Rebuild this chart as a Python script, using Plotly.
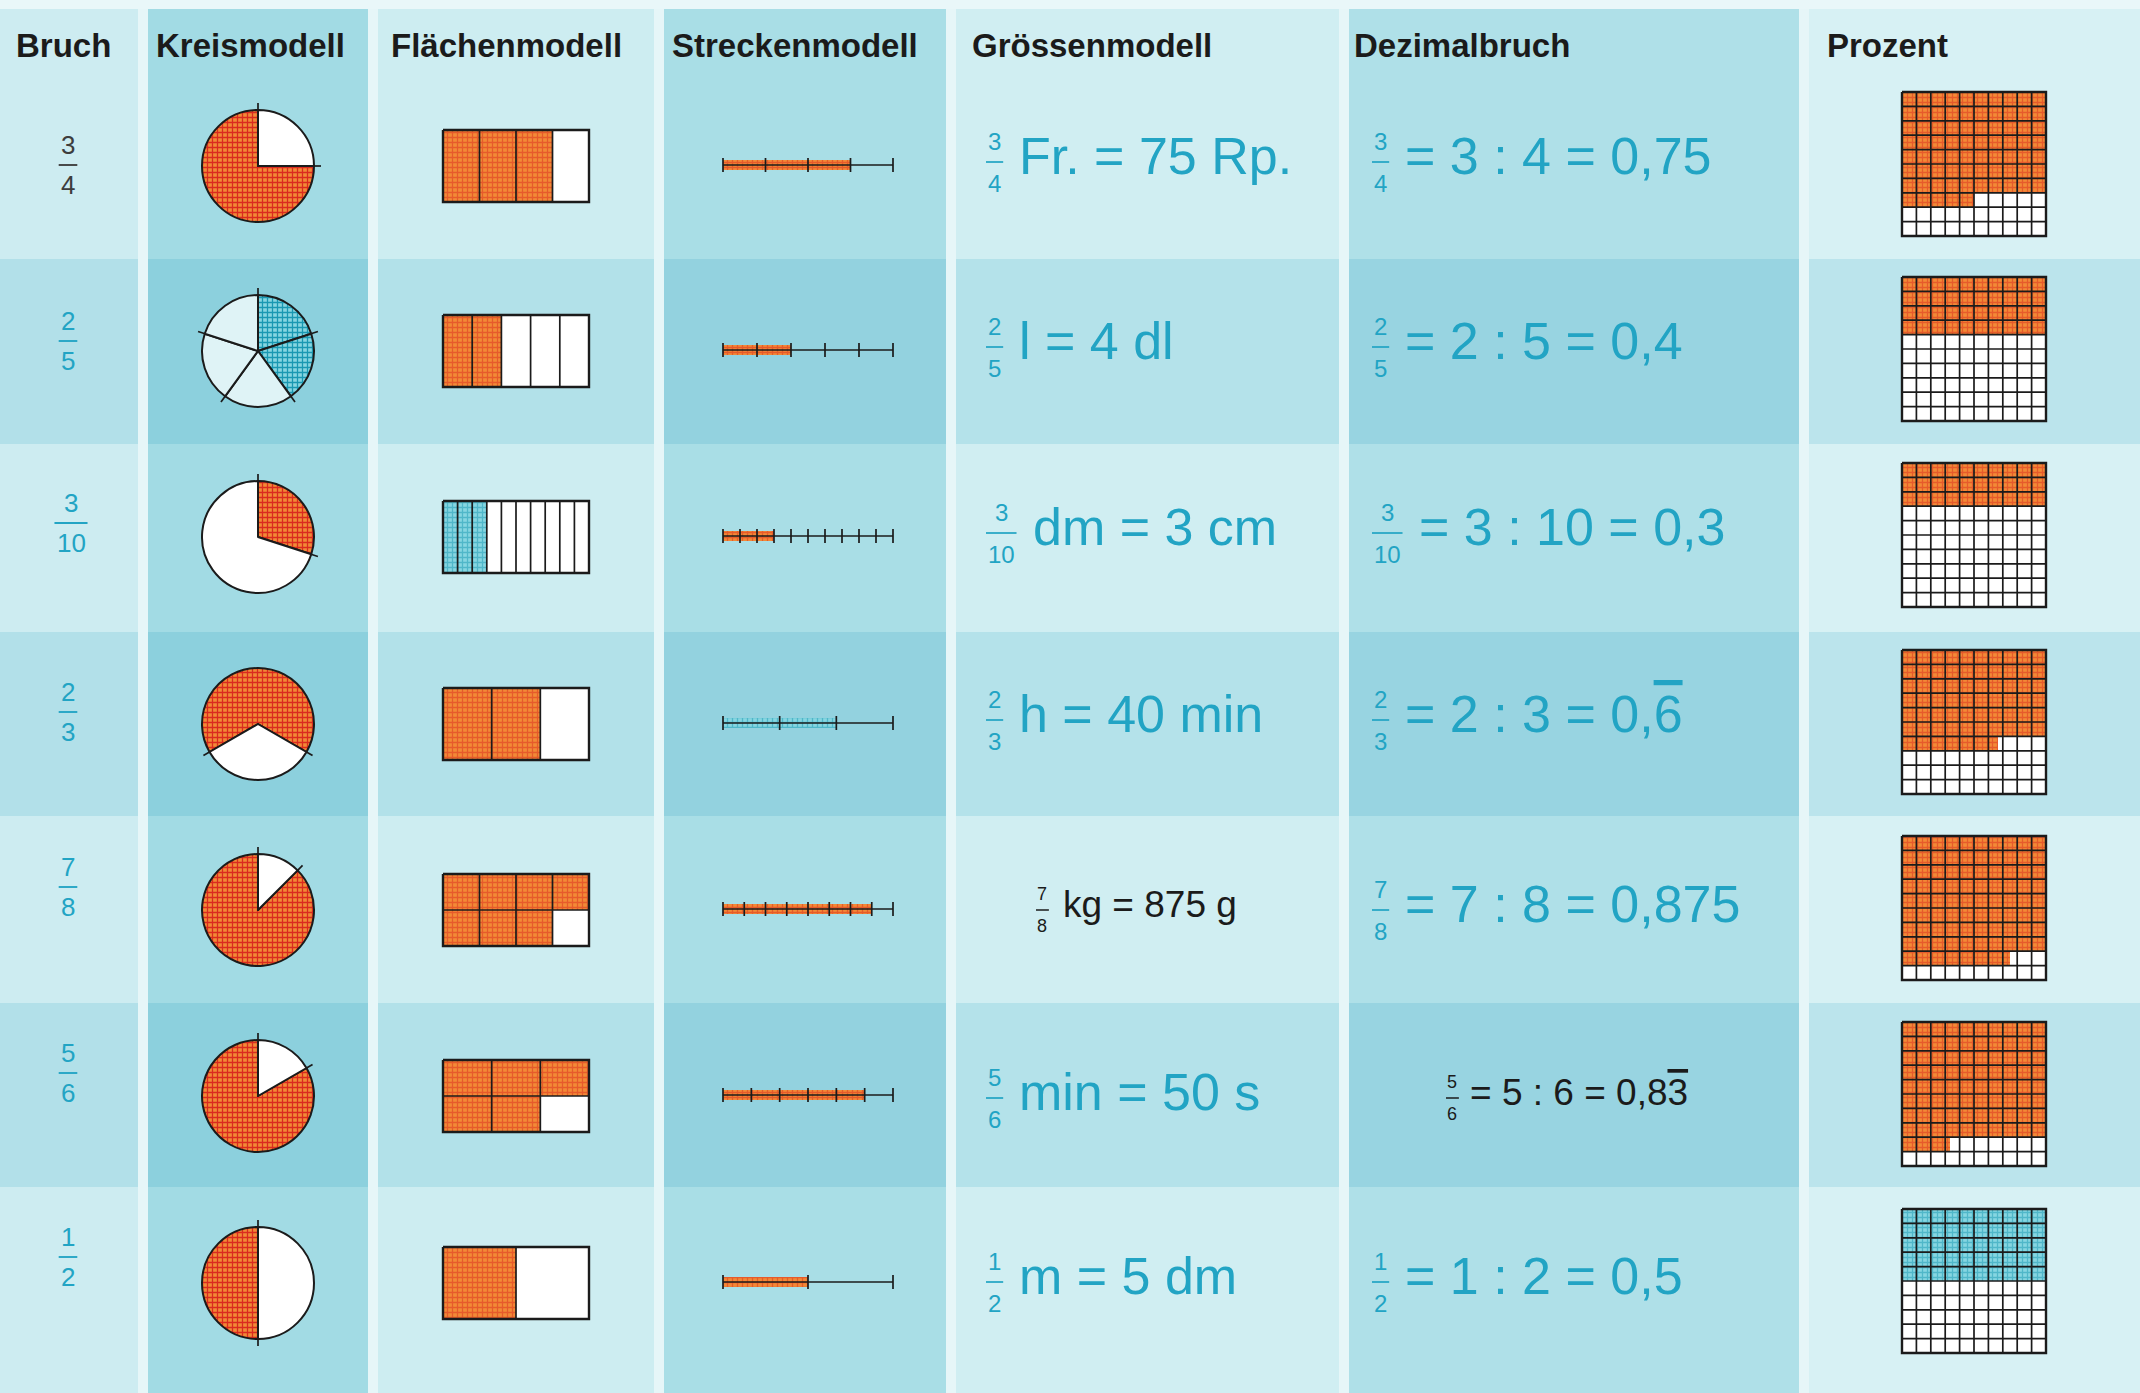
import math
import plotly.graph_objects as go

# ---- table content (top to bottom) ----
numerators = [3, 2, 3, 2, 7, 5, 1]
denominators = [4, 5, 10, 3, 8, 6, 2]

headers = ["Bruch", "Kreismodell", "Flächenmodell", "Streckenmodell",
           "Grössenmodell", "Dezimalbruch", "Prozent"]

# Grössenmodell: "n/d <unit> = <value>"
units = ["Fr.", "l", "dm", "h", "kg", "min", "m"]
unit_values = ["75 Rp.", "4 dl", "3 cm", "40 min", "875 g", "50 s", "5 dm"]

# Dezimalbruch: "n/d = n : d = <decimal>", last entry of each pair is the repeating part
decimals = [("0,75", ""), ("0,4", ""), ("0,3", ""), ("0,", "6"),
            ("0,875", ""), ("0,8", "3"), ("0,5", "")]

# Flächenmodell: number of rows the rectangle is split into
area_rows = [1, 1, 1, 1, 2, 2, 1]

# ---- styling ----
split_pie = [False, True, False, False, False, False, False]
pie_start = [90, 0, 0, 240, 45, 60, 180]          # degrees clockwise from 12 o'clock
blue_model = ["", "kreis", "flaeche", "strecke", "", "", "prozent"]
plain_text = ["bruch", "", "", "", "groesse", "dezimal", ""]

W, H = 2140, 1393
col_edges = [0, 143, 373, 659, 951, 1344, 1804, W]
row_edges = [0, 259, 444, 632, 816, 1003, 1187, H]
row_mid = [166, 351, 537, 724, 910, 1096, 1283]
bruch_mid = [165, 341, 523, 712, 887, 1073, 1257]
text_mid = [156, 341, 527, 714, 904, 1092, 1276]
header_x = [14, 154, 389, 670, 970, 1352, 1825]
col_tint = ["#cdecf1", "#a2dbe4", "#cdedf1", "#a9dee6", "#d0eef2", "#afe0e8", "#d7f1f4"]

FONT = "Liberation Sans, Arial, Helvetica, sans-serif"
CYAN = "#22a4c4"
GREY = "#3d3d3d"
BLACK = "#1b1b1b"
ORANGE = dict(shape="+", fgcolor="#da2b1f", bgcolor="#f28a36", size=5, solidity=0.45)
BLUE = dict(shape="+", fgcolor="#1a98b2", bgcolor="#86d6e1", size=5, solidity=0.45)


def dark_row(c):
    r, g, b = (int(c[k:k + 2], 16) for k in (1, 3, 5))
    return "#%02x%02x%02x" % (int(r * 0.87), int(g * 0.95), int(b * 0.97))


fig = go.Figure()
thin_x, thin_y = [], []
bold_x, bold_y = [], []


def seg(xs, ys, x0, y0, x1, y1):
    xs += [x0, x1, None]
    ys += [y0, y1, None]


def box(xs, ys, x0, y0, x1, y1):
    xs += [x0, x1, x1, x0, x0, None]
    ys += [y0, y0, y1, y1, y0, None]


def fill_poly(px, py, pattern=None, color="white"):
    px = list(px) + [px[0]]
    py = list(py) + [py[0]]
    kw = dict(fillcolor=color)
    if pattern is not None:
        kw = dict(fillpattern=pattern, fillcolor=pattern["bgcolor"])
    fig.add_trace(go.Scatter(x=px, y=py, mode="lines", fill="toself",
                             line=dict(width=0, color="rgba(0,0,0,0)"),
                             hoverinfo="skip", showlegend=False, **kw))


def fill_rect(x0, y0, x1, y1, pattern=None, color="white"):
    fill_poly([x0, x1, x1, x0], [y0, y0, y1, y1], pattern, color)


def stacked(cx, cy, num, den, size, color, dy):
    nd = max(len(str(num)), len(str(den)))
    half = (0.556 * nd + 0.16) * size / 2
    for txt, y in ((num, cy - dy), (den, cy + dy)):
        fig.add_annotation(x=cx, y=y, text=str(txt), showarrow=False,
                           xanchor="center", yanchor="middle",
                           font=dict(size=size, color=color, family=FONT))
    fig.add_shape(type="line", x0=cx - half, x1=cx + half, y0=cy, y1=cy,
                  line=dict(color=color, width=max(1.5, size / 14)))
    return half


# background bands
for ci in range(7):
    for ri in range(7):
        tint = col_tint[ci] if ri % 2 == 0 else dark_row(col_tint[ci])
        fig.add_shape(type="rect", layer="below", x0=col_edges[ci], x1=col_edges[ci + 1],
                      y0=row_edges[ri], y1=row_edges[ri + 1],
                      fillcolor=tint, line=dict(width=0))
for e in col_edges[1:-1]:
    fig.add_shape(type="rect", layer="below", x0=e - 5, x1=e + 5, y0=0, y1=H,
                  fillcolor="#e6f6f8", line=dict(width=0))
fig.add_shape(type="rect", layer="below", x0=0, x1=W, y0=0, y1=9,
              fillcolor="#e9f7f9", line=dict(width=0))

# headers
for hx, txt in zip(header_x, headers):
    fig.add_annotation(x=hx, y=45, text=txt, showarrow=False, xanchor="left",
                       yanchor="middle",
                       font=dict(size=33, color=BLACK, family=FONT, weight="bold"))

for i in range(7):
    n, d = numerators[i], denominators[i]
    f = n / d
    rc = row_mid[i]

    # Bruch
    col = GREY if plain_text[i] == "bruch" else CYAN
    stacked(68 + (3 if d >= 10 else 0), bruch_mid[i], n, d, 26, col, 20)

    # Kreismodell
    r = 56
    cx = 258
    pat = BLUE if blue_model[i] == "kreis" else ORANGE
    if split_pie[i]:
        vals = [1] * d
        filled = [k < n for k in range(d)]
        cuts = [k * 360 / d for k in range(d)]
        empty = "#dff3f6"
    else:
        vals = [f, 1 - f]
        filled = [True, False]
        cuts = [pie_start[i], pie_start[i] + f * 360]
        empty = "white"
    fig.add_trace(go.Pie(
        values=vals, sort=False, direction="clockwise", rotation=pie_start[i],
        textinfo="none", hoverinfo="skip", showlegend=False,
        marker=dict(colors=[pat["bgcolor"] if k else empty for k in filled],
                    line=dict(color=BLACK, width=2),
                    pattern=dict(shape=[pat["shape"] if k else "" for k in filled],
                                 fgcolor=[pat["fgcolor"] if k else empty for k in filled],
                                 bgcolor=[pat["bgcolor"] if k else empty for k in filled],
                                 size=pat["size"], solidity=pat["solidity"])),
        domain=dict(x=[(cx - r) / W, (cx + r) / W],
                    y=[1 - (rc + r) / H, 1 - (rc - r) / H])))
    for a in cuts:
        t = math.radians(a)
        seg(thin_x, thin_y, cx + (r - 2) * math.sin(t), rc - (r - 2) * math.cos(t),
            cx + (r + 7) * math.sin(t), rc - (r + 7) * math.cos(t))

    # Flächenmodell
    fx0, fx1, y0, y1 = 443, 589, rc - 36, rc + 36
    rows = area_rows[i]
    cols = d // rows
    cw, chh = (fx1 - fx0) / cols, (y1 - y0) / rows
    pat = BLUE if blue_model[i] == "flaeche" else ORANGE
    fill_rect(fx0, y0, fx1, y1)
    for k in range(n):
        rr, cc = divmod(k, cols)
        fill_rect(fx0 + cc * cw, y0 + rr * chh, fx0 + (cc + 1) * cw, y0 + (rr + 1) * chh, pat)
    for cc in range(1, cols):
        seg(thin_x, thin_y, fx0 + cc * cw, y0, fx0 + cc * cw, y1)
    for rr in range(1, rows):
        seg(thin_x, thin_y, fx0, y0 + rr * chh, fx1, y0 + rr * chh)
    box(bold_x, bold_y, fx0, y0, fx1, y1)

    # Streckenmodell
    sx0, sx1, sy = 723, 893, rc - 1
    pat = BLUE if blue_model[i] == "strecke" else ORANGE
    fill_rect(sx0, sy - 5, sx0 + f * (sx1 - sx0), sy + 5, pat)
    seg(thin_x, thin_y, sx0, sy, sx1, sy)
    for k in range(d + 1):
        tx = sx0 + k * (sx1 - sx0) / d
        seg(thin_x, thin_y, tx, sy - 7, tx, sy + 7)

    # Grössenmodell
    if plain_text[i] == "groesse":
        big, small, dy, col, left, gap = 37, 18, 16, BLACK, col_edges[4] + 85, 12
    else:
        big, small, dy, col, left, gap = 52, 24, 21, CYAN, col_edges[4] + 35, 14
    nd = max(len(str(n)), len(str(d)))
    half = (0.556 * nd + 0.16) * small / 2
    fcx = left + half
    stacked(fcx, text_mid[i] + 6, n, d, small, col, dy)
    fig.add_annotation(x=fcx + half + gap, y=text_mid[i], text=f"{units[i]} = {unit_values[i]}",
                       showarrow=False, xanchor="left", yanchor="middle",
                       font=dict(size=big, color=col, family=FONT))

    # Dezimalbruch
    if plain_text[i] == "dezimal":
        big, small, dy, col, left, gap = 37, 18, 16, BLACK, col_edges[5] + 102, 9
    else:
        big, small, dy, col, left, gap = 52, 24, 21, CYAN, col_edges[5] + 28, 14
    half = (0.556 * nd + 0.16) * small / 2
    fcx = left + half
    stacked(fcx, text_mid[i] + 6, n, d, small, col, dy)
    head, period = decimals[i]
    if period:
        period = f"<span style='text-decoration:overline'>{period}</span>"
    fig.add_annotation(x=fcx + half + gap, y=text_mid[i], text=f"= {n} : {d} = {head}{period}",
                       showarrow=False, xanchor="left", yanchor="middle",
                       font=dict(size=big, color=col, family=FONT))

    # Prozent (10 x 10 grid)
    gx0, size = 1902, 144
    gy0 = rc - 74
    c = size / 10
    gx1, gy1 = gx0 + size, gy0 + size
    pat = BLUE if blue_model[i] == "prozent" else ORANGE
    fill_rect(gx0, gy0, gx1, gy1)
    pct = 100 * f
    full = int(pct // 10)
    rem = pct - full * 10
    yf = gy0 + full * c
    xr = gx0 + rem * c
    fill_poly([gx0, gx1, gx1, xr, xr, gx0], [gy0, gy0, yf, yf, yf + c, yf + c], pat)
    for k in range(1, 10):
        seg(thin_x, thin_y, gx0 + k * c, gy0, gx0 + k * c, gy1)
        seg(thin_x, thin_y, gx0, gy0 + k * c, gx1, gy0 + k * c)
    box(bold_x, bold_y, gx0, gy0, gx1, gy1)

fig.add_trace(go.Scatter(x=thin_x, y=thin_y, mode="lines", hoverinfo="skip",
                         line=dict(color=BLACK, width=1.7), showlegend=False))
fig.add_trace(go.Scatter(x=bold_x, y=bold_y, mode="lines", hoverinfo="skip",
                         line=dict(color=BLACK, width=2.4), showlegend=False))

fig.update_layout(
    width=W, height=H, margin=dict(l=0, r=0, t=0, b=0),
    paper_bgcolor="#cdecf1", plot_bgcolor="#cdecf1",
    xaxis=dict(range=[0, W], visible=False, fixedrange=True),
    yaxis=dict(range=[H, 0], visible=False, fixedrange=True),
    showlegend=False,
)

fig.write_html("out.html", config={"displayModeBar": False},
               post_script="document.body.style.margin='0';document.body.style.overflow='hidden';")
